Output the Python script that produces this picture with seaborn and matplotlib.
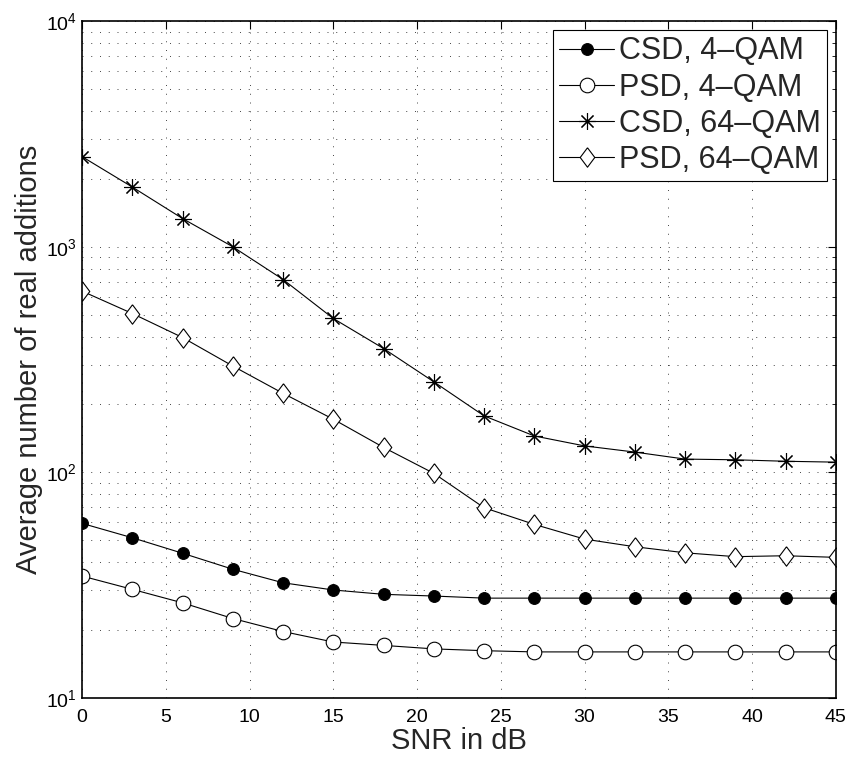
import numpy as np
import pandas as pd
import matplotlib
matplotlib.use("Agg")
import matplotlib.pyplot as plt
import matplotlib.ticker as mticker
import seaborn as sns

snr = [0, 3, 6, 9, 12, 15, 18, 21, 24, 27, 30, 33, 36, 39, 42, 45]
csd_4qam = [59.4, 51.3, 43.8, 37.2, 32.4, 30.1, 28.8, 28.3, 27.7, 27.7, 27.7, 27.7, 27.7, 27.7, 27.7, 27.7]
psd_4qam = [34.7, 30.3, 26.4, 22.5, 19.7, 17.7, 17.1, 16.5, 16.2, 16.0, 16.0, 16.0, 16.0, 16.0, 16.0, 16.0]
csd_64qam = [2510, 1840, 1334, 1000, 716, 481, 354, 252, 178, 145, 131, 123, 114.5, 113.7, 112, 111]
psd_64qam = [636, 506, 396, 296, 224, 172, 129, 99, 69.7, 58.8, 50.6, 46.8, 44, 42.3, 42.7, 42]
labels = ["CSD, 4\u2013QAM", "PSD, 4\u2013QAM", "CSD, 64\u2013QAM", "PSD, 64\u2013QAM"]
x_ticks = [0, 5, 10, 15, 20, 25, 30, 35, 40, 45]

sns.set_style("white")
plt.rcParams['font.family'] = ['Liberation Sans', 'DejaVu Sans']
plt.rcParams['mathtext.fontset'] = 'custom'
plt.rcParams['mathtext.rm'] = 'Liberation Sans'
plt.rcParams['mathtext.it'] = 'Liberation Sans'

fig = plt.figure(figsize=(8.46, 7.57), dpi=100)
ax = fig.add_axes([0.097, 0.078, 0.891, 0.894])

diamond = [(0, 1), (0.75, 0), (0, -1), (-0.75, 0), (0, 1)]
series = [
    (csd_4qam, dict(marker='o', markersize=8.5, markerfacecolor='black', markeredgecolor='black')),
    (psd_4qam, dict(marker='o', markersize=10.5, markerfacecolor='white', markeredgecolor='black', markeredgewidth=0.8)),
    (csd_64qam, dict(marker=(8, 2, 0), markersize=12, markeredgecolor='black', markeredgewidth=0.8)),
    (psd_64qam, dict(marker=diamond, markersize=14, markerfacecolor='white', markeredgecolor='black', markeredgewidth=0.8)),
]
for (vals, mk), lab in zip(series, labels):
    sns.lineplot(x=snr, y=vals, ax=ax, color='black', linewidth=0.8, label=lab, **mk)

ax.set_yscale('log')
ax.set_xlim(0, 45)
ax.set_ylim(10, 1e4)
ax.set_xticks(x_ticks)
ax.xaxis.set_major_formatter(mticker.FormatStrFormatter('%d'))
ax.yaxis.set_major_locator(mticker.LogLocator(base=10, numticks=10))
ax.yaxis.set_minor_locator(mticker.LogLocator(base=10, subs=np.arange(2, 10), numticks=20))
ax.yaxis.set_major_formatter(mticker.FuncFormatter(lambda v, p: r'$10^{%d}$' % int(round(np.log10(v)))))
ax.yaxis.set_minor_formatter(mticker.NullFormatter())

ax.tick_params(which='both', direction='in', top=True, right=True, labelsize=14, colors='black')
ax.tick_params(which='major', length=6, width=0.8)
ax.tick_params(which='minor', length=3, width=0.6)
ax.tick_params(axis='x', pad=8)

ax.grid(True, which='major', linestyle=(0, (1, 8)), color='#444444', linewidth=0.7)
ax.grid(True, which='minor', axis='y', linestyle=(0, (1, 8)), color='#444444', linewidth=0.7)
for s in ax.spines.values():
    s.set_color('black')
    s.set_linewidth(1.2)

ax.set_xlabel("SNR in dB", fontsize=21, labelpad=1)
ax.set_ylabel("Average number of real additions", fontsize=21, labelpad=2)

leg = ax.legend(loc='upper right', fontsize=22, frameon=True, fancybox=False,
                edgecolor='black', framealpha=1, handlelength=1.8, handletextpad=0.15,
                borderpad=0.2, labelspacing=0.2, borderaxespad=0.3)
leg.get_frame().set_linewidth(0.8)

fig.savefig("out.png", dpi=100)
